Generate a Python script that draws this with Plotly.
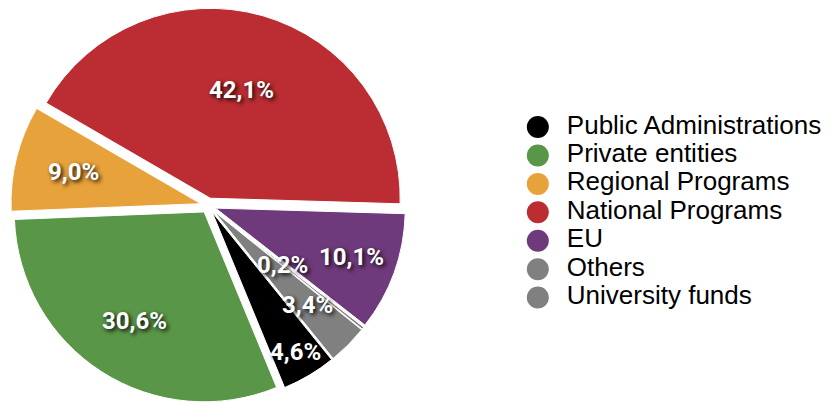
import math
import plotly.graph_objects as go

labels = ["Public Administrations", "Private entities", "Regional Programs",
          "National Programs", "EU", "Others", "University funds"]
values = [4.6, 30.6, 9.0, 42.1, 10.1, 0.2, 3.4]
colors = ["#000000", "#5a9648", "#e8a23c", "#bb2d32", "#6e3a7b", "#808080", "#808080"]

# where each percentage label sits along its slice (fraction of radius)
label_r = [0.90, 0.72, 0.73, 0.63, 0.80, 0.50, 0.74]

W, H = 833, 403
ROT = 141
PULL = 0.04
DOM_X = [0, 0.5]
DOM_Y = [0, 0.98]

fig = go.Figure()
fig.add_trace(go.Pie(
    labels=labels,
    values=values,
    textinfo="none",
    sort=False,
    direction="clockwise",
    rotation=ROT,
    pull=PULL,
    marker=dict(colors=colors, line=dict(color="white", width=1)),
    domain=dict(x=DOM_X, y=DOM_Y),
    showlegend=False,
    hoverinfo="label+percent",
))

# percentage labels, placed at the middle angle of each slice
cx = (DOM_X[0] + DOM_X[1]) / 2
cy = (DOM_Y[0] + DOM_Y[1]) / 2
R = min((DOM_X[1] - DOM_X[0]) * W, (DOM_Y[1] - DOM_Y[0]) * H) / 2 / (1 + PULL)
total = sum(values)
start = ROT
for v, rf in zip(values, label_r):
    mid = math.radians(start + 360 * v / total / 2)
    start += 360 * v / total
    fig.add_annotation(
        x=cx + rf * R * math.sin(mid) / W,
        y=cy + rf * R * math.cos(mid) / H,
        xref="paper", yref="paper", xanchor="center", yanchor="middle",
        showarrow=False,
        text=f"{v:.1f}%".replace(".", ","),
        font=dict(family="Roboto, Arial", size=24, color="white",
                  weight="bold", shadow="2px 2px 4px rgba(0,0,0,0.95)"),
    )

# legend: round markers + names
rows = list(range(len(labels)))
fig.add_trace(go.Scatter(
    x=[0] * len(labels), y=rows, mode="markers",
    marker=dict(color=colors, size=22, symbol="circle"),
    hoverinfo="skip", showlegend=False,
))
fig.add_trace(go.Scatter(
    x=[29] * len(labels), y=rows, mode="text",
    text=labels, textposition="middle right",
    textfont=dict(family="Liberation Sans, Arial", size=26, color="black"),
    hoverinfo="skip", showlegend=False,
))

fig.update_layout(
    width=W, height=H,
    margin=dict(l=0, r=0, t=0, b=0),
    paper_bgcolor="white",
    plot_bgcolor="white",
    xaxis=dict(visible=False, domain=[0.6, 1.0], range=[-38, 295], fixedrange=True),
    yaxis=dict(visible=False, domain=[0.2263, 0.720], range=[6.5, -0.5], fixedrange=True),
    showlegend=False,
)

fig.write_html("out.html", config={"displayModeBar": False},
               post_script="document.body.style.margin='0';")
